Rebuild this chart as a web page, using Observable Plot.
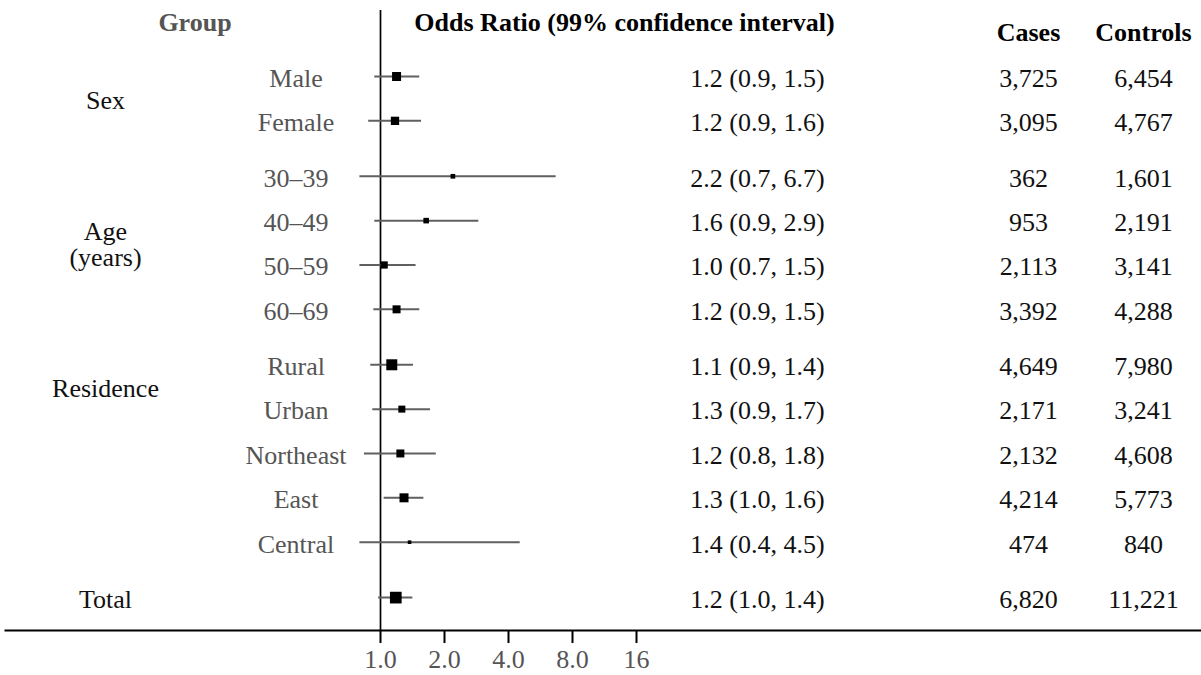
<!DOCTYPE html>
<html>
<head>
<meta charset="utf-8">
<script src="https://cdn.jsdelivr.net/npm/d3@7"></script>
<script src="https://cdn.jsdelivr.net/npm/@observablehq/plot@0.6"></script>
<style>
  html, body { margin: 0; padding: 0; background: #fff; }
</style>
</head>
<body>
<div id="chart"></div>
<script>
// Forest plot: odds ratios with 99% confidence intervals by subgroup
const subgroups = ["Male", "Female", "30–39", "40–49", "50–59", "60–69", "Rural", "Urban", "Northeast", "East", "Central", ""];
const groups = ["Sex", "Sex", "Age\n(years)", "Age\n(years)", "Age\n(years)", "Age\n(years)", "Residence", "Residence", "", "", "", "Total"];
const sections = [0, 0, 1, 1, 1, 1, 2, 2, 2, 2, 2, 3];
const oddsRatio = [1.19, 1.17, 2.19, 1.64, 1.04, 1.19, 1.13, 1.26, 1.24, 1.29, 1.37, 1.18];
const ciLower = [0.94, 0.88, 0.70, 0.94, 0.70, 0.93, 0.90, 0.92, 0.84, 1.04, 0.40, 0.98];
const ciUpper = [1.53, 1.56, 6.70, 2.90, 1.47, 1.53, 1.43, 1.72, 1.83, 1.60, 4.54, 1.42];
const weight = [81, 69, 22, 31, 53, 64, 121, 49, 64, 81, 13, 137];
const cases = [3725, 3095, 362, 953, 2113, 3392, 4649, 2171, 2132, 4214, 474, 6820];
const controls = [6454, 4767, 1601, 2191, 3141, 4288, 7980, 3241, 4608, 5773, 840, 11221];
const xTicks = [1, 2, 4, 8, 16];
const xTickLabels = ["1.0", "2.0", "4.0", "8.0", "16"];
const headerLabels = ["Group", "Odds Ratio (99% confidence interval)", "Cases", "Controls"];

// Layout
const W = 1201, H = 675;
const mL = 5, mT = 10, mB = 45;
const x0 = 380, octave = 64;          // pixel of OR = 1 and width of one doubling
const rowStep = 44.35, firstRowY = 76;
const sectionGap = 0.25;
const col = {group: 105, subgroup: 295.5, or: 757, cases: 1028, controls: 1143};
const headerX = [194.5, 624, 1028, 1143];
const headerDy = [12, 12, 22.5, 22.5];
const headerFill = ["#555", "#000", "#000", "#000"];
const font = "'Liberation Serif', 'Times New Roman', serif";
const fs = 26;

const rows = subgroups.map((s, i) => ({
  subgroup: s,
  group: groups[i],
  pos: i + sections[i] * sectionGap,
  or: oddsRatio[i],
  lo: ciLower[i],
  hi: ciUpper[i],
  w: weight[i],
  cases: cases[i],
  controls: controls[i]
}));

const fmt1 = d => d.toFixed(1);
const fmtN = d3.format(",");

const groupLabels = d3.flatRollup(
  rows.filter(d => d.group),
  v => d3.mean(v, d => d.pos),
  d => d.group
).map(([label, pos]) => ({label, pos}));

const yTop = (mT - firstRowY) / rowStep;
const yBottom = (H - mB - firstRowY) / rowStep;
const xMin = 0.8, xMax = 16;

const colText = (data, key, text, fill, extra = {}) =>
  Plot.text(data, {
    y: "pos", text, frameAnchor: "left", textAnchor: "middle", lineAnchor: "middle",
    dx: col[key] - mL, dy: 2, fill, fontSize: fs, ...extra
  });

const headerText = (i) =>
  Plot.text([headerLabels[i]], {
    text: d => d, frameAnchor: "top-left", textAnchor: "middle", lineAnchor: "middle",
    dx: headerX[i] - mL, dy: headerDy[i], fill: headerFill[i], fontWeight: "bold", fontSize: fs
  });

const chart = Plot.plot({
  width: W,
  height: H,
  marginLeft: mL,
  marginRight: 0,
  marginTop: mT,
  marginBottom: mB,
  style: {fontFamily: font, fontSize: fs + "px", background: "#fff", overflow: "visible"},
  x: {
    type: "log", base: 2, domain: [xMin, xMax],
    range: [x0 + octave * Math.log2(xMin), x0 + octave * Math.log2(xMax)],
    clamp: true
  },
  y: {domain: [yTop, yBottom], reverse: true, axis: null},
  r: {type: "sqrt", domain: [0, 144], range: [0, 12 / Math.sqrt(Math.PI)]},
  marks: [
    Plot.frame({anchor: "bottom", stroke: "#000", strokeWidth: 2}),
    Plot.ruleX([1], {stroke: "#000", strokeWidth: 1.7}),
    Plot.ruleY(rows, {y: "pos", x1: "lo", x2: "hi", stroke: "#606060", strokeWidth: 2}),
    Plot.dot(rows, {x: "or", y: "pos", r: "w", symbol: "square", fill: "#000", stroke: null}),
    Plot.axisX(xTicks, {
      tickFormat: d => xTickLabels[xTicks.indexOf(d)],
      tickSize: 13, tickPadding: 6, strokeWidth: 2,
      stroke: "#000", fill: "#555", fontSize: fs, label: null
    }),
    colText(groupLabels, "group", "label", "#111", {lineHeight: 1}),
    colText(rows, "subgroup", "subgroup", "#555"),
    colText(rows, "or", d => `${fmt1(d.or)} (${fmt1(d.lo)}, ${fmt1(d.hi)})`, "#111"),
    colText(rows, "cases", d => fmtN(d.cases), "#111"),
    colText(rows, "controls", d => fmtN(d.controls), "#111"),
    ...headerLabels.map((_, i) => headerText(i))
  ]
});

document.getElementById("chart").appendChild(chart);
</script>
</body>
</html>
